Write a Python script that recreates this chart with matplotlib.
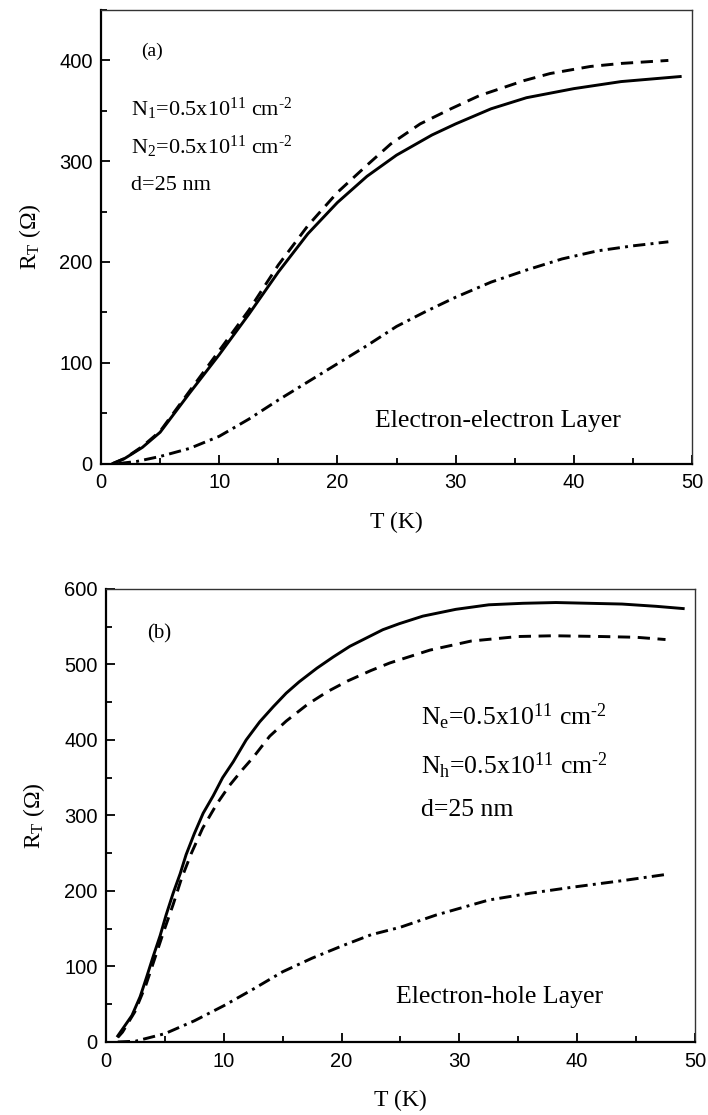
import matplotlib
matplotlib.use("Agg")
import matplotlib.pyplot as plt
from matplotlib.ticker import MultipleLocator

# ---------------- data: panel (a) electron-electron ----------------
Ta_solid = [1, 2, 3.5, 5, 7.5, 10, 12.5, 15, 17.5, 20, 22.5, 25, 28, 30, 33, 36, 40, 44, 49]
Ra_solid = [0, 5, 16, 31, 70, 108, 148, 190, 228, 259, 285, 306, 326, 337, 352, 363, 372, 379, 384]

Ta_dash = [1, 2, 3.5, 5, 7.5, 10, 12.5, 15, 17.5, 20, 22.5, 24.5, 27, 29.6, 32, 35.8, 38, 41.4, 44, 48]
Ra_dash = [0, 5, 17, 32, 72, 112, 152, 197, 236, 269, 296, 317, 337, 352, 365, 380, 387, 394, 397, 400]

Ta_dd = [1.5, 3, 5, 7.5, 10, 12.5, 15, 17.5, 20, 22.5, 25, 27.5, 30, 33, 36, 39, 42, 45, 48]
Ra_dd = [0, 2, 7, 15, 27, 44, 63, 81, 99, 117, 136, 151, 165, 180, 192, 203, 211, 216, 220]

# ---------------- data: panel (b) electron-hole ----------------
Tb_solid = [1, 2.2, 2.9, 3.45, 4.0, 4.6, 5.1, 5.7, 6.3, 6.8, 7.5, 8.25, 9.1, 9.9, 10.8, 11.9,
            13.05, 14.2, 15.3, 16.4, 17.9, 19.3, 20.7, 22.1, 23.5, 24.9, 26.9, 29.7, 32.5,
            35.4, 38.2, 41.0, 43.8, 46.7, 49]
Rb_solid = [8, 35, 60, 86, 113, 141, 168, 197, 223, 248, 276, 303, 326, 350, 371, 400,
            424, 444, 462, 477, 495, 510, 524, 535, 546, 554, 564, 573, 579,
            581, 582, 581, 580, 577, 574]

Tb_dash = [1, 1.4, 2.45, 3.4, 4.0, 4.85, 5.7, 6.4, 7.25, 8.2, 9.4, 10.5, 11.6, 12.5, 13.9,
           15.3, 17.1, 18.8, 20.5, 22.5, 24.1, 27.5, 31, 35, 38, 42, 45, 47.5]
Rb_dash = [6, 13, 40, 76, 104, 144, 182, 216, 250, 283, 315, 340, 361, 377, 405,
           425, 447, 464, 478, 492, 502, 519, 531, 537, 538, 537, 536, 533]

Tb_dd = [1, 2.5, 5, 7.5, 10, 12.5, 15, 17.5, 20, 22.5, 25, 28, 32.5, 36, 39.6, 44, 47.6]
Rb_dd = [0, 1, 11, 28, 48, 70, 93, 111, 127, 142, 152, 168, 188, 197, 205, 214, 222]

x_ticks = [0, 10, 20, 30, 40, 50]
ya_ticks = [0, 100, 200, 300, 400]
yb_ticks = [0, 100, 200, 300, 400, 500, 600]

SERIF = ["Liberation Serif", "DejaVu Serif"]
SANS = ["Liberation Sans", "DejaVu Sans"]

plt.rcParams["mathtext.fontset"] = "custom"
plt.rcParams["mathtext.rm"] = "Liberation Serif"
plt.rcParams["mathtext.it"] = "Liberation Serif:italic"

fig = plt.figure(figsize=(7.08, 11.15), dpi=100)
ax1 = fig.add_axes([0.1427, 0.5843, 0.8347, 0.4067])
ax2 = fig.add_axes([0.1497, 0.0655, 0.8319, 0.4063])

DASH = (0, (4.2, 2.6))
DASHDOT = (0, (4.2, 1.8, 1.0, 1.8))
LW = 2.1
HY = "\u2010"


def style(ax, yticks, ylim):
    ax.set_xlim(0, 50)
    ax.set_ylim(*ylim)
    ax.set_xticks(x_ticks)
    ax.set_yticks(yticks)
    ax.xaxis.set_minor_locator(MultipleLocator(5))
    ax.yaxis.set_minor_locator(MultipleLocator(50))
    ax.tick_params(which="both", direction="in", top=False, right=False, width=1.3)
    ax.tick_params(which="major", length=6.5)
    ax.tick_params(which="minor", length=4.3)
    ax.tick_params(axis="x", which="major", pad=7)
    ax.tick_params(axis="y", which="major", pad=6)
    for lab in ax.get_xticklabels() + ax.get_yticklabels():
        lab.set_fontfamily(SANS)
        lab.set_fontsize(14.5)
    for s in ("left", "bottom"):
        ax.spines[s].set_linewidth(1.6)
    for s in ("top", "right"):
        ax.spines[s].set_linewidth(1.0)
        ax.spines[s].set_color("#333333")
    ax.set_xlabel("T (K)", fontfamily=SERIF, fontsize=17, labelpad=14)
    ax.set_ylabel(r"R$_\mathregular{T}$ ($\Omega$)", fontfamily=SERIF, fontsize=17, labelpad=12)


def dens(sub):
    return (r"N$_\mathregular{" + sub + r"}$=0.5x10$^\mathregular{11}$ cm$^\mathregular{"
            + HY + "2}$")


# panel (a)
ax1.plot(Ta_solid, Ra_solid, color="black", lw=LW, linestyle="-")
ax1.plot(Ta_dash, Ra_dash, color="black", lw=LW, linestyle=DASH)
ax1.plot(Ta_dd, Ra_dd, color="black", lw=LW, linestyle=DASHDOT)
style(ax1, ya_ticks, (0, 450))
ax1.text(3.4, 409, "(a)", fontfamily=SERIF, fontsize=14, va="center", ha="left")
ax1.text(2.5, 352, dens("1"), fontfamily=SERIF, fontsize=16, va="center", ha="left")
ax1.text(2.5, 314, dens("2"), fontfamily=SERIF, fontsize=16, va="center", ha="left")
ax1.text(2.5, 276, "d=25 nm", fontfamily=SERIF, fontsize=16, va="center", ha="left")
ax1.text(23.2, 42, "Electron-electron Layer", fontfamily=SERIF, fontsize=18.5,
         va="center", ha="left")

# panel (b)
ax2.plot(Tb_solid, Rb_solid, color="black", lw=LW, linestyle="-")
ax2.plot(Tb_dash, Rb_dash, color="black", lw=LW, linestyle=DASH)
ax2.plot(Tb_dd, Rb_dd, color="black", lw=LW, linestyle=DASHDOT)
style(ax2, yb_ticks, (0, 600))
ax2.text(3.5, 541, "(b)", fontfamily=SERIF, fontsize=15, va="center", ha="left")
ax2.text(26.7, 430, dens("e"), fontfamily=SERIF, fontsize=18.5, va="center", ha="left")
ax2.text(26.7, 365, dens("h"), fontfamily=SERIF, fontsize=18.5, va="center", ha="left")
ax2.text(26.7, 307, "d=25 nm", fontfamily=SERIF, fontsize=18.5, va="center", ha="left")
ax2.text(24.6, 60, "Electron-hole Layer", fontfamily=SERIF, fontsize=18.5, va="center", ha="left")

fig.savefig("out.png", dpi=100)
